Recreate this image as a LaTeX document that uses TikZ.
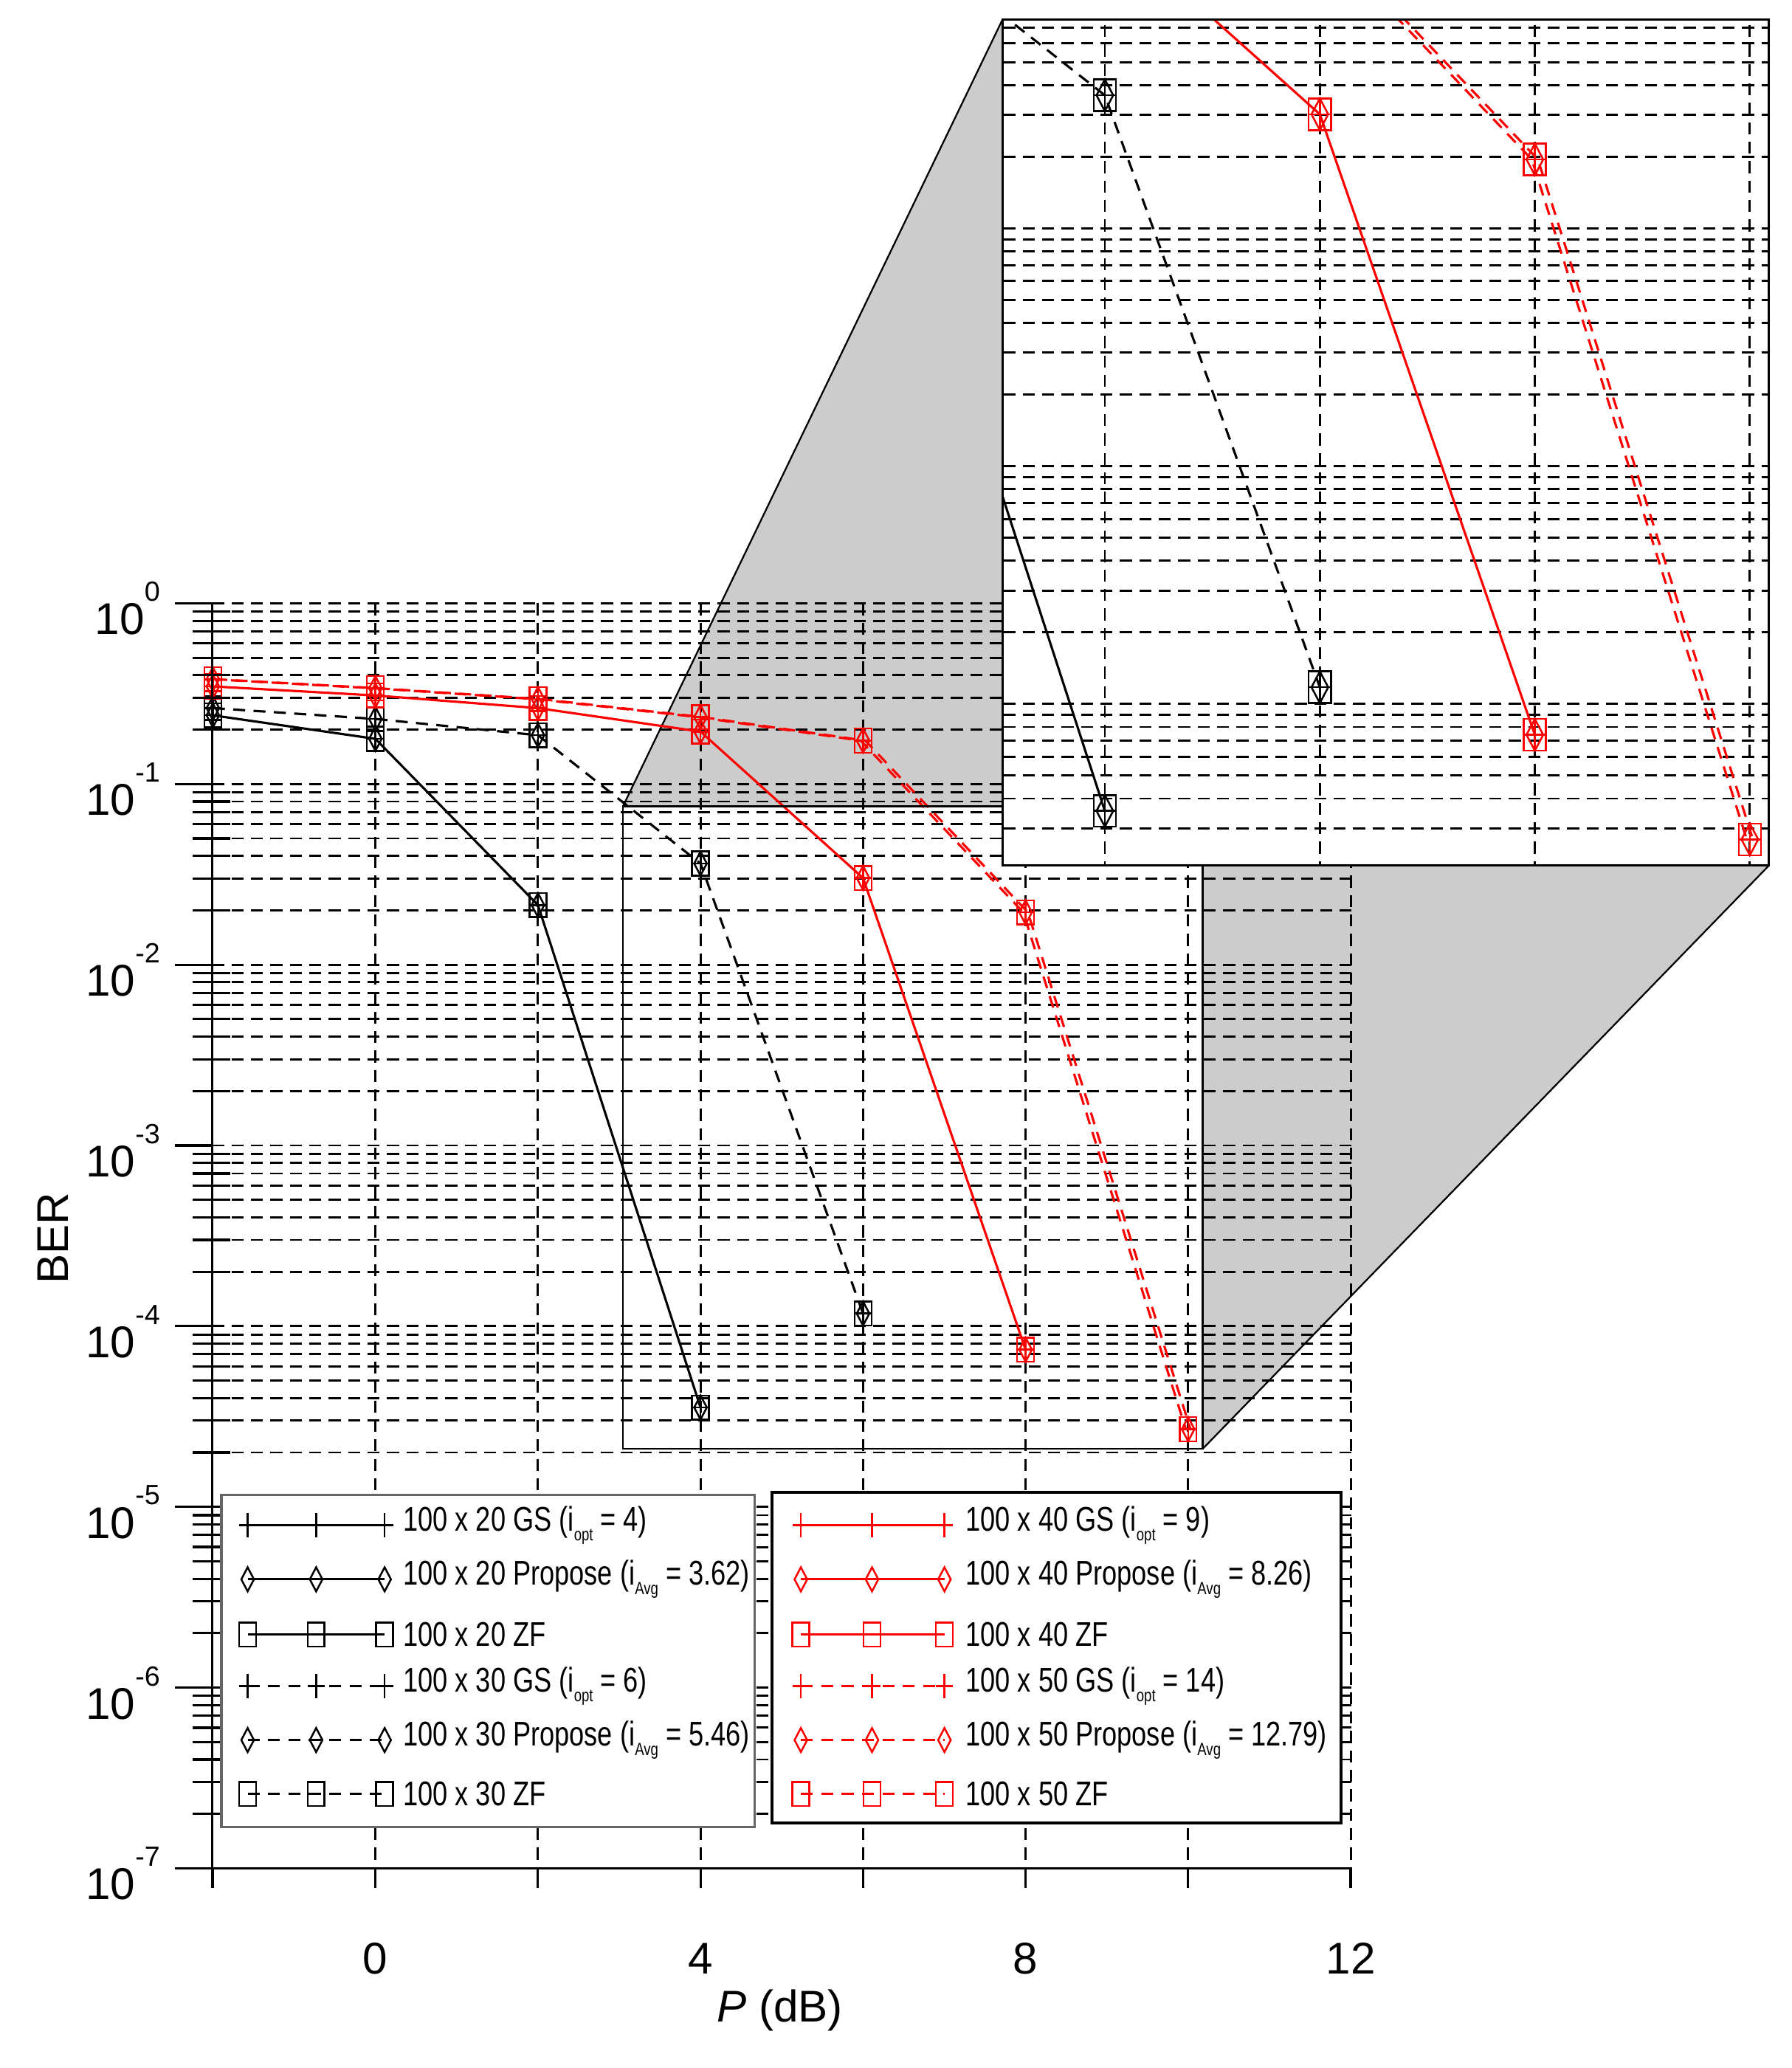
\documentclass[tikz,border=0pt]{standalone}
\usepackage{fontspec}
\setmainfont{Liberation Sans}
\usetikzlibrary{plotmarks}
\newcommand\sbs[1]{\raisebox{-0.55ex}{\fontsize{19}{19}\selectfont #1}}
\newcommand\legtxt[1]{\scalebox{0.78}[1]{\fontsize{37}{37}\selectfont #1}}
\newcommand\plotbody{%
  \foreach \d in {0,...,6}{\foreach \m in {2,...,9}{
    \draw[grd] (161,{Y(-\d-1+log10(\m))}) -- (1026,{Y(-\d-1+log10(\m))});}}
  \foreach \d in {0,...,7}{\draw[grd] (161,{Y(-\d)}) -- (1026,{Y(-\d)});}
  \foreach \p in {0,2,...,12}{\draw[grd] ({X(\p)},{Y(0)}) -- ({X(\p)},{Y(-7)});}
  % 100x20
  \draw[blkl] plot coordinates {({X(-2)},{Y(-0.62)}) ({X(0)},{Y(-0.75)}) ({X(2)},{Y(-1.67)}) ({X(4)},{Y(-4.45)})};
  \foreach \mm in {+,diamond,square}{\draw[blkl,only marks,mk,mark=\mm] plot coordinates {({X(-2)},{Y(-0.62)}) ({X(0)},{Y(-0.75)}) ({X(2)},{Y(-1.67)}) ({X(4)},{Y(-4.45)})};}
  % 100x30
  \draw[blkl,dsh] plot coordinates {({X(-2)},{Y(-0.58)}) ({X(0)},{Y(-0.64)}) ({X(2)},{Y(-0.73)}) ({X(4)},{Y(-1.44)}) ({X(6)},{Y(-3.93)})};
  \foreach \mm in {+,diamond,square}{\draw[blkl,only marks,mk,mark=\mm] plot coordinates {({X(-2)},{Y(-0.58)}) ({X(0)},{Y(-0.64)}) ({X(2)},{Y(-0.73)}) ({X(4)},{Y(-1.44)}) ({X(6)},{Y(-3.93)})};}
  % 100x40
  \draw[redl] plot coordinates {({X(-2)},{Y(-0.46)}) ({X(0)},{Y(-0.51)}) ({X(2)},{Y(-0.58)}) ({X(4)},{Y(-0.71)}) ({X(6)},{Y(-1.52)}) ({X(8)},{Y(-4.13)})};
  \foreach \mm in {+,diamond,square}{\draw[redl,only marks,mk,mark=\mm] plot coordinates {({X(-2)},{Y(-0.46)}) ({X(0)},{Y(-0.51)}) ({X(2)},{Y(-0.58)}) ({X(4)},{Y(-0.71)}) ({X(6)},{Y(-1.52)}) ({X(8)},{Y(-4.13)})};}
  % 100x50
  \foreach \sh in {-2.5pt,2.5pt}{\draw[redl,dsh,xshift=\sh] plot coordinates {({X(-2)},{Y(-0.42)}) ({X(0)},{Y(-0.47)}) ({X(2)},{Y(-0.53)}) ({X(4)},{Y(-0.63)}) ({X(6)},{Y(-0.76)}) ({X(8)},{Y(-1.71)}) ({X(10)},{Y(-4.57)})};}
  \foreach \mm in {+,diamond,square}{\draw[redl,only marks,mk,mark=\mm] plot coordinates {({X(-2)},{Y(-0.42)}) ({X(0)},{Y(-0.47)}) ({X(2)},{Y(-0.53)}) ({X(4)},{Y(-0.63)}) ({X(6)},{Y(-0.76)}) ({X(8)},{Y(-1.71)}) ({X(10)},{Y(-4.57)})};}
}
\begin{document}
\begin{tikzpicture}[x=0.05cm,y=-0.05cm,
  declare function={X(\p)=285+61.7*\p; Y(\l)=458-137.2*\l;},
  grd/.style={line width=2.3pt,dash pattern=on 13pt off 8pt},
  blkl/.style={line width=2.5pt,black},
  redl/.style={line width=2.5pt,red},
  dsh/.style={dash pattern=on 13pt off 9pt},
  mk/.style={mark size=13pt,mark options={solid,xscale=0.7,line width=2pt}},
  lbl/.style={font=\fontsize{48}{48}\selectfont},
  legbox/.style={fill=white,line width=2.8pt}]
\useasboundingbox (0,0) rectangle (1360,1570);
\fill[black!20] (473,612) -- (761,15) -- (1343,657) -- (913,1100) -- (913,612) -- cycle;
\draw[line width=1.8pt] (473,612) -- (761,15) (1343,657) -- (913,1100);
\plotbody
% axes
\draw[line width=2.5pt] (161,{Y(0)}) -- (161,1433);
\draw[line width=2.5pt] (161,{Y(-7)}) -- (1026,{Y(-7)});
\foreach \p in {-2,0,...,12}{\draw[line width=2.5pt] ({X(\p)},{Y(-7)}) -- ({X(\p)},1433);}
\foreach \d/\e in {0/0,1/-1,2/-2,3/-3,4/-4,5/-5,6/-6,7/-7}{\draw[line width=2.5pt] (133,{Y(-\d)}) -- (161,{Y(-\d)});
  \node[lbl,anchor=east] (yl\d) at (124,{Y(-\d)+4}) {10\raisebox{0.75em}{\fontsize{30}{30}\selectfont\e}};}
\foreach \d in {0,...,6}{\foreach \m in {2,...,9}{
  \draw[line width=2.5pt] (146,{Y(-\d-1+log10(\m))}) -- (175,{Y(-\d-1+log10(\m))});}}
\foreach \p in {0,4,8,12}{\node[lbl] (xl\p) at ({X(\p)},1487) {\p};}
\node[lbl] (xt) at (592,1526) {\textit{P} (dB)};
\node[lbl,rotate=90] (yt) at (40,940) {BER};
% source rect
\draw[line width=2pt] (473,612) rectangle (913,1100);
% inset
\fill[white] (761,15) rectangle (1343,657);
\begin{scope}
\clip (761,15) rectangle (1343,657);
\begin{scope}[shift={(135.36,-790.15)},xscale=1.3227,yscale=1.3156]
\plotbody
\end{scope}
\end{scope}
\draw[line width=2.5pt] (761,15) rectangle (1343,657);
% legends
\draw[legbox,draw=black!60] (168,1135) rectangle (573,1387);
\draw[legbox] (586,1133) rectangle (1018,1384);
\foreach \i/\yy/\st/\mm/\t in {
  1/1158/solid/+/{100 x 20 GS (i\sbs{opt} = 4)},
  2/1199/solid/diamond/{100 x 20 Propose (i\sbs{Avg} = 3.62)},
  3/1241/solid/square/{100 x 20 ZF},
  4/1280/dsh/+/{100 x 30 GS (i\sbs{opt} = 6)},
  5/1321/dsh/diamond/{100 x 30 Propose (i\sbs{Avg} = 5.46)},
  6/1362/dsh/square/{100 x 30 ZF}}{
  \draw[blkl,\st] (188,\yy) -- (292,\yy);
  \draw[blkl,only marks,mk,mark=\mm] plot coordinates {(188,\yy) (240,\yy) (292,\yy)};
  \node[anchor=west,inner sep=0] (la\i) at (306,\yy) {\legtxt{\t}};}
\foreach \i/\yy/\st/\mm/\t in {
  1/1158/solid/+/{100 x 40 GS (i\sbs{opt} = 9)},
  2/1199/solid/diamond/{100 x 40 Propose (i\sbs{Avg} = 8.26)},
  3/1241/solid/square/{100 x 40 ZF},
  4/1280/dsh/+/{100 x 50 GS (i\sbs{opt} = 14)},
  5/1321/dsh/diamond/{100 x 50 Propose (i\sbs{Avg} = 12.79)},
  6/1362/dsh/square/{100 x 50 ZF}}{
  \draw[redl,\st] (608,\yy) -- (717,\yy);
  \draw[redl,only marks,mk,mark=\mm] plot coordinates {(608,\yy) (662,\yy) (717,\yy)};
  \node[anchor=west,inner sep=0] (lb\i) at (733,\yy) {\legtxt{\t}};}
\end{tikzpicture}
\end{document}
